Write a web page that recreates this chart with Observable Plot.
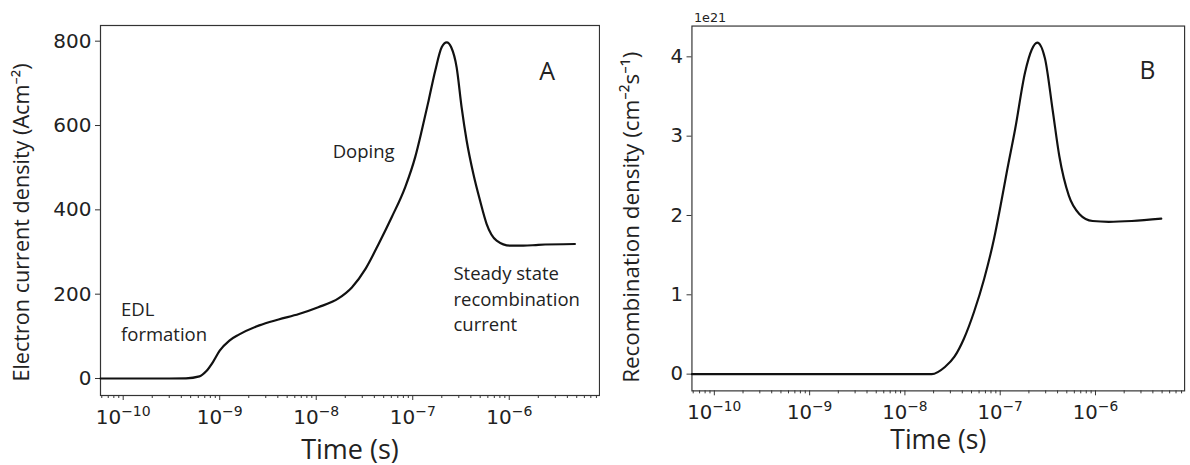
<!DOCTYPE html>
<html>
<head>
<meta charset="utf-8">
<script src="https://cdn.jsdelivr.net/npm/d3@7"></script>
<script src="https://cdn.jsdelivr.net/npm/@observablehq/plot@0.6"></script>
<style>
  html, body { margin: 0; padding: 0; background: #fff; overflow: hidden; }
  #wrap { position: relative; width: 1190px; height: 465px; overflow: hidden; }
  #pa { position: absolute; left: 0; top: 0; }
  #pb { position: absolute; left: 600px; top: 0; }
</style>
</head>
<body>
<div id="wrap"><div id="pa"></div><div id="pb"></div></div>
<script>
// ---- Data ----
// Panel A: electron current density (A cm^-2) vs time (s)
const timeA = [5.82e-11, 2.51e-10, 4.47e-10, 6.17e-10, 7.24e-10, 8.51e-10, 1.0e-9, 1.26e-9, 1.58e-9, 2.57e-9,
  4.07e-9, 6.61e-9, 1.05e-8, 1.70e-8, 2.34e-8, 3.24e-8, 4.43e-8, 6.07e-8, 8.36e-8, 1.06e-7,
  1.24e-7, 1.46e-7, 1.71e-7, 2.0e-7, 2.25e-7, 2.51e-7, 2.85e-7, 3.21e-7, 3.62e-7, 4.25e-7,
  4.98e-7, 5.82e-7, 7.40e-7, 1.02e-6, 1.40e-6, 2.0e-6, 4.79e-6];
const currentA = [0, 0, 0.5, 5, 17, 39, 66, 90, 104, 126,
  140, 153, 169, 190, 216, 260, 319, 383, 454, 525,
  588, 659, 730, 786, 797, 785, 738, 643, 564, 485,
  422, 367, 327, 315, 315, 317, 319];

// Panel B: recombination density (x1e21 cm^-2 s^-1) vs time (s)
const timeB = [5.82e-11, 1.91e-8, 2.63e-8, 3.31e-8, 4.17e-8, 5.33e-8, 6.78e-8, 8.59e-8, 1.007e-7, 1.178e-7,
  1.44e-7, 1.82e-7, 2.14e-7, 2.45e-7, 2.95e-7, 3.55e-7, 4.17e-7, 5.25e-7, 6.76e-7, 9.33e-7,
  1.38e-6, 2.40e-6, 4.90e-6];
const recombB = [0, 0, 0.09, 0.22, 0.45, 0.79, 1.20, 1.70, 2.12, 2.56,
  3.10, 3.80, 4.09, 4.18, 3.98, 3.33, 2.75, 2.25, 2.02, 1.93,
  1.92, 1.93, 1.96];

// Ticks and labels
const xTicks = [1e-10, 1e-9, 1e-8, 1e-7, 1e-6];
const yTicksA = [0, 200, 400, 600, 800];
const yTicksB = [0, 1, 2, 3, 4];
const xLabel = "Time (s)";
const yLabelA = "Electron current density (Acm⁻²)";
const yLabelB = "Recombination density (cm⁻²s⁻¹)";
const offsetLabelB = "1e21";

// Annotations (data coordinates)
const notesA = [
  {t: 9.5e-11, v: 190, text: "EDL\nformation"},
  {t: 1.48e-8, v: 565, text: "Doping"},
  {t: 2.64e-7, v: 275, text: "Steady state\nrecombination\ncurrent"}
];
const panelA = [{t: 2.04e-6, v: 750, text: "A"}];
const panelB = [{t: 2.9e-6, v: 3.94, text: "B"}];

// ---- Build ----
const dataA = timeA.map((t, i) => ({t, v: currentA[i]}));
const dataB = timeB.map((t, i) => ({t, v: recombB[i]}));
const xDomain = [5.82e-11, 8.61e-6];
const minorTicks = [];
for (let e = -11; e <= -6; e++) for (let m = 2; m <= 9; m++) {
  const v = m * Math.pow(10, e);
  if (v >= xDomain[0] && v <= xDomain[1]) minorTicks.push(v);
}
const fmtX = d => "10^" + Math.round(Math.log10(d));
const labelFont = "'Open Sans', 'Noto Sans', sans-serif";
const tickFont = "'DejaVu Sans', sans-serif";
const ink = "#222";

function commonMarks(yTicks) {
  return [
    Plot.frame({stroke: "#333", strokeWidth: 1.2}),
    Plot.axisX(minorTicks, {tickSize: 3, tickFormat: () => "", label: null, stroke: "#333"}),
    Plot.axisX(xTicks, {tickSize: 5, tickPadding: 9, tickFormat: fmtX, label: null, stroke: "#333", fontSize: 20, fontFamily: tickFont, fill: ink}),
    Plot.axisY(yTicks, {tickSize: 5, tickPadding: 4, tickFormat: d => String(d), label: null, stroke: "#333", fontSize: 20, fontFamily: tickFont, fill: ink}),
  ];
}

const plotA = Plot.plot({
  width: 600, height: 465,
  marginLeft: 100, marginRight: 1, marginTop: 25, marginBottom: 70,
  style: {fontFamily: tickFont, fontSize: "20px", color: ink, background: "transparent"},
  x: {type: "log", domain: xDomain, label: null},
  y: {domain: [-40.3, 837.2], label: null},
  marks: [
    ...commonMarks(yTicksA),
    Plot.line(dataA, {x: "t", y: "v", curve: "monotone-x", stroke: "#111", strokeWidth: 2.2}),
    Plot.text([yLabelA], {frameAnchor: "left", rotate: -90, dx: -78, dy: 12, textAnchor: "middle", lineAnchor: "middle", fontSize: 21.6, fontFamily: labelFont, fill: ink}),
    Plot.text([xLabel], {frameAnchor: "bottom", dy: 63, textAnchor: "middle", lineAnchor: "bottom", fontSize: 27, fontFamily: labelFont, fill: ink}),
    Plot.text(notesA, {x: "t", y: "v", text: "text", textAnchor: "start", lineAnchor: "top", lineHeight: 1.36, fontSize: 18.5, fontFamily: labelFont, fill: ink}),
    Plot.text(panelA, {x: "t", y: "v", text: "text", textAnchor: "start", lineAnchor: "top", fontSize: 25, fontFamily: labelFont, fill: ink})
  ]
});

const plotB = Plot.plot({
  width: 600, height: 465,
  marginLeft: 93, marginRight: 6, marginTop: 26, marginBottom: 68,
  style: {fontFamily: tickFont, fontSize: "20px", color: ink, background: "transparent"},
  x: {type: "log", domain: xDomain, label: null},
  y: {domain: [-0.211, 4.388], label: null},
  marks: [
    ...commonMarks(yTicksB),
    Plot.line(dataB, {x: "t", y: "v", curve: "monotone-x", stroke: "#111", strokeWidth: 2.2}),
    Plot.text([yLabelB], {frameAnchor: "left", rotate: -90, dx: -61, dy: 9, textAnchor: "middle", lineAnchor: "middle", fontSize: 22.8, fontFamily: labelFont, fill: ink}),
    Plot.text([xLabel], {frameAnchor: "bottom", dy: 59, textAnchor: "middle", lineAnchor: "bottom", fontSize: 27, fontFamily: labelFont, fill: ink}),
    Plot.text([offsetLabelB], {frameAnchor: "top-left", dx: 2, dy: -4, textAnchor: "start", lineAnchor: "bottom", fontSize: 13, fontFamily: tickFont, fill: ink}),
    Plot.text(panelB, {x: "t", y: "v", text: "text", textAnchor: "start", lineAnchor: "top", fontSize: 25, fontFamily: labelFont, fill: ink})
  ]
});

// Render exponents of the x tick labels as raised, smaller text (like mathtext)
function superscriptTicks(svg) {
  svg.querySelectorAll("text").forEach(el => {
    const s = el.textContent;
    const m = /^10\^(-?\d+)$/.exec(s);
    if (!m) return;
    const ns = "http://www.w3.org/2000/svg";
    el.textContent = "";
    const base = document.createElementNS(ns, "tspan");
    base.textContent = "10";
    const sup = document.createElementNS(ns, "tspan");
    sup.textContent = m[1].replace("-", "−");
    sup.setAttribute("font-size", "14");
    sup.setAttribute("dy", "-8");
    el.appendChild(base);
    el.appendChild(sup);
  });
}
superscriptTicks(plotA);
superscriptTicks(plotB);

document.getElementById("pa").appendChild(plotA);
document.getElementById("pb").appendChild(plotB);
</script>
</body>
</html>
